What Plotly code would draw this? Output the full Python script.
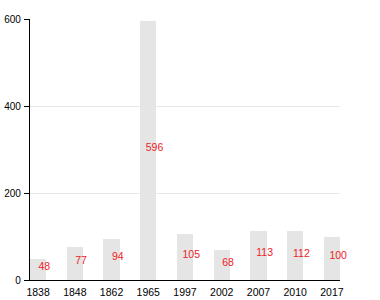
import plotly.graph_objects as go

years = ["1838", "1848", "1862", "1965", "1997", "2002", "2007", "2010", "2017"]
values = [48, 77, 94, 596, 105, 68, 113, 112, 100]
y_ticks = [0, 200, 400, 600]

idx = list(range(len(years)))

fig = go.Figure()
fig.add_trace(go.Bar(
    x=idx, y=values, width=0.44,
    marker=dict(color="#e5e5e5", line=dict(width=0)),
    hoverinfo="skip",
))
fig.add_trace(go.Scatter(
    x=[i + 0.17 for i in idx], y=[v / 2 + 4 for v in values],
    mode="text", text=[str(v) for v in values],
    textfont=dict(color="#ee1c25", size=10.5, family="Liberation Sans, Arial"),
    textposition="middle center", hoverinfo="skip", cliponaxis=False,
))
fig.update_layout(
    width=380, height=300,
    margin=dict(l=30, r=40, t=19, b=20),
    paper_bgcolor="white", plot_bgcolor="white",
    showlegend=False,
    font=dict(family="Liberation Sans, Arial", size=10.5, color="#000"),
    bargap=0,
)
fig.update_xaxes(
    range=[-0.22, 8.22], tickmode="array", tickvals=idx, ticktext=years,
    showline=True, linecolor="#000", linewidth=1.2, showgrid=False,
    ticks="", zeroline=False, ticklabelstandoff=2, automargin=False,
)
fig.update_yaxes(
    range=[0, 600], tickmode="array", tickvals=y_ticks,
    showline=True, linecolor="#000", linewidth=1.2,
    showgrid=True, gridcolor="#e8e8e8", gridwidth=1,
    ticks="outside", ticklen=5, tickcolor="#000", zeroline=False,
    ticklabelstandoff=1, automargin=False,
    tickfont=dict(size=10),
)
fig.write_html("out.html")
